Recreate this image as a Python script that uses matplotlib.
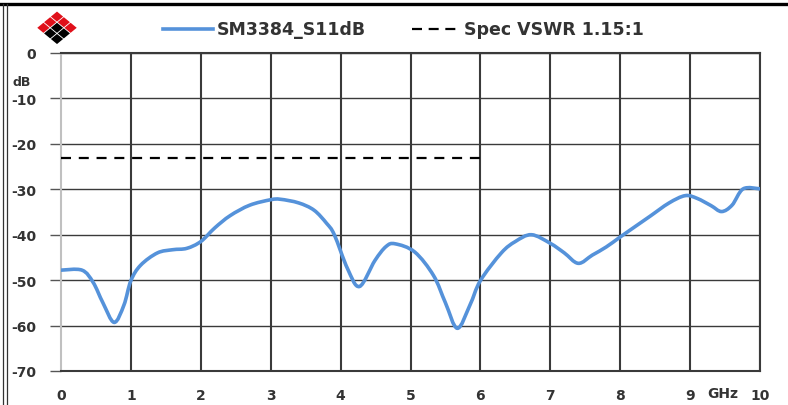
import numpy as np
import matplotlib
matplotlib.use("Agg")
import matplotlib.pyplot as plt
from matplotlib.lines import Line2D
from matplotlib.patches import Polygon, PathPatch
from matplotlib.path import Path

# ── Data ──────────────────────────────────────────────────
freq_ghz = [0.0, 0.3, 0.46, 0.6, 0.76, 0.9, 1.0, 1.14, 1.38, 1.6, 1.8, 2.0,
            2.2, 2.42, 2.7, 3.0, 3.14, 3.4, 3.62, 3.8, 3.91, 4.1, 4.27, 4.49,
            4.65, 4.78, 5.06, 5.33, 5.5, 5.67, 5.85, 6.0, 6.3, 6.5, 6.73, 7.0,
            7.2, 7.4, 7.6, 7.8, 8.0, 8.28, 8.43, 8.7, 8.93, 9.1, 9.3, 9.45,
            9.6, 9.76, 10.0]
s11_db = [-47.8, -47.8, -50.5, -55.0, -59.3, -55.5, -50.1, -46.7, -44.0, -43.3,
          -43.0, -41.5, -38.5, -35.8, -33.5, -32.3, -32.2, -33.0, -34.6, -37.5,
          -40.0, -47.5, -51.4, -45.7, -42.6, -42.0, -43.8, -49.0, -55.0, -60.6,
          -55.5, -50.1, -44.0, -41.5, -40.0, -41.9, -44.0, -46.3, -44.5, -42.7,
          -40.5, -37.5, -35.9, -33.0, -31.4, -32.0, -33.6, -34.9, -33.5, -29.9,
          -29.9]

spec_freq = [0.0, 6.0]
spec_db = [-23.13, -23.13]

x_ticks = list(range(0, 11))
x_labels = [str(v) for v in x_ticks]
y_ticks = list(range(-70, 1, 10))
y_labels = [str(v) for v in y_ticks]

W, H = 788, 406
BLUE = "#5592DA"
TXT = "#333333"


def smooth_path(xs, ys, k=1 / 6):
    """Excel-style smoothed line: cubic Bezier segments through the points."""
    p = np.column_stack([xs, ys]).astype(float)
    verts = [p[0]]
    codes = [Path.MOVETO]
    for i in range(len(p) - 1):
        p0 = p[max(i - 1, 0)]
        p1, p2 = p[i], p[i + 1]
        p3 = p[min(i + 2, len(p) - 1)]
        c1 = p1 + (p2 - p0) * k
        c2 = p2 - (p3 - p1) * k
        verts += [c1, c2, p2]
        codes += [Path.CURVE4] * 3
    return Path(verts, codes)


fig = plt.figure(figsize=(W / 100, H / 100), dpi=100)
ax = fig.add_axes([61 / W, 34 / H, 699 / W, 318 / H])

ax.add_patch(PathPatch(smooth_path(freq_ghz, s11_db), facecolor="none",
                       edgecolor=BLUE, linewidth=2.6, capstyle="round",
                       joinstyle="round", zorder=4))
ax.plot(spec_freq, spec_db, color="black", linewidth=1.6,
        linestyle=(0, (4.5, 3.5)), zorder=3)

ax.set_xlim(0, 10)
ax.set_ylim(-70, 0)
ax.set_xticks(x_ticks)
ax.set_xticklabels(x_labels)
ax.set_yticks(y_ticks)
ax.set_yticklabels(y_labels)

for lbl in ax.get_xticklabels() + ax.get_yticklabels():
    lbl.set_fontweight("bold")
    lbl.set_fontsize(10)
    lbl.set_color(TXT)

ax.tick_params(axis="x", length=0, pad=12)
ax.tick_params(axis="y", length=8, width=1, color="#555555", pad=10)

ax.xaxis.grid(True, color="#3a3a3a", linewidth=1.5)
ax.yaxis.grid(True, color="#3a3a3a", linewidth=1.0)
ax.xaxis.get_gridlines()[0].set_visible(False)
ax.set_axisbelow(True)

ax.spines["left"].set_color("#c0c0c0")
ax.spines["left"].set_linewidth(1.5)
for side in ["bottom", "top", "right"]:
    ax.spines[side].set_color("#3a3a3a")
    ax.spines[side].set_linewidth(1.5)


def px(x, y):
    return x / W, 1 - y / H


# unit labels
fig.text(*px(723, 394), "GHz", ha="center", va="center",
         fontsize=10, fontweight="bold", color=TXT)
fig.text(*px(22, 83), "dB", ha="center", va="center",
         fontsize=9, fontweight="bold", color=TXT)

# ── Legend (drawn in figure pixels) ───────────────────────
fig.add_artist(Line2D([163 / W, 213 / W], [1 - 30 / H] * 2, color=BLUE,
                      linewidth=2.6))
fig.text(*px(217, 30), "SM3384_S11dB", ha="left", va="center",
         fontsize=12.5, fontweight="bold", color=TXT)
fig.add_artist(Line2D([412 / W, 462 / W], [1 - 30 / H] * 2, color="black",
                      linewidth=1.6, linestyle=(0, (4.5, 3.0))))
fig.text(*px(464, 30), "Spec VSWR 1.15:1", ha="left", va="center",
         fontsize=12.5, fontweight="bold", color=TXT)

# ── Logo: 3x3 diamond grid ────────────────────────────────
cx0, cy0, a, b = 57, 12, 6.8, 5.6
for i in range(3):
    for j in range(3):
        r = i + j
        cx = cx0 + (j - i) * a
        cy = cy0 + b + r * b
        if r < 2 or (r == 2 and i != 1):
            col = "#e0101a"
        else:
            col = "black"
        hw, hh = a * 0.9, b * 0.9
        pts = [px(cx - hw, cy), px(cx, cy - hh), px(cx + hw, cy), px(cx, cy + hh)]
        fig.add_artist(Polygon(pts, closed=True, facecolor=col, edgecolor="none",
                               transform=fig.transFigure))

# ── Outer frame ───────────────────────────────────────────
fig.add_artist(Line2D([0, 1], [1 - 5 / H] * 2, color="black", linewidth=2.4))
for xp in (2.5, 7):
    fig.add_artist(Line2D([xp / W] * 2, [0, 1 - 5 / H], color="#333333",
                          linewidth=0.9))

fig.savefig("out.png", dpi=100)
